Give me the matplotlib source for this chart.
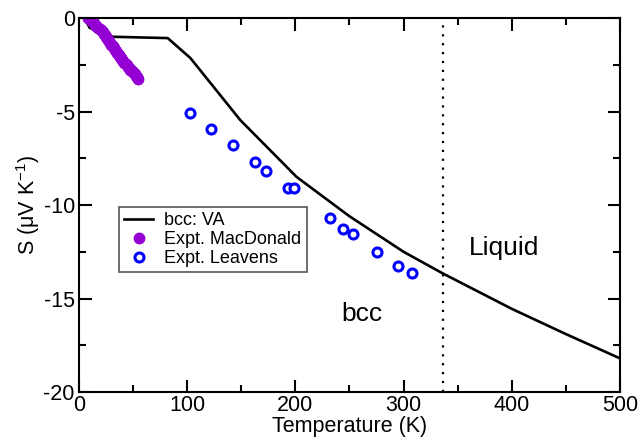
import numpy as np
import matplotlib.pyplot as plt

plt.rcParams['font.family'] = ['Liberation Sans', 'DejaVu Sans']
plt.rcParams['axes.unicode_minus'] = False

# bcc: VA calculation
va_T = [5, 10, 31, 82, 103, 149, 201, 250, 300, 336, 400, 450, 500]
va_S = [0.0, -0.53, -1.0, -1.07, -2.14, -5.45, -8.49, -10.6, -12.5, -13.65, -15.55, -16.9, -18.2]

# Expt. MacDonald
mac_T = [8, 9, 10, 11, 12, 13, 14, 15, 16, 17, 18, 19, 20, 21, 22, 23, 24, 25,
         26, 27, 28, 29, 30, 31, 32, 33, 34, 35, 36, 37, 38, 39, 40, 41, 42, 43,
         44, 45, 46, 47, 48, 49, 50, 51, 52, 53, 54, 55]
mac_S = [0.0, -0.02, -0.06, -0.1, -0.16, -0.22, -0.28, -0.35, -0.41, -0.47,
         -0.52, -0.58, -0.64, -0.7, -0.77, -0.85, -0.92, -1.0, -1.08, -1.15,
         -1.25, -1.35, -1.43, -1.5, -1.6, -1.7, -1.78, -1.85, -1.93, -2.0, -2.08,
         -2.15, -2.22, -2.3, -2.38, -2.45, -2.53, -2.6, -2.68, -2.75, -2.8,
         -2.85, -2.88, -2.92, -3.0, -3.08, -3.16, -3.24]

# Expt. Leavens
lea_T = [103, 122, 142, 163, 173, 193, 199, 232, 244, 253, 275, 295, 308]
lea_S = [-5.06, -5.95, -6.77, -7.68, -8.16, -9.07, -9.07, -10.68, -11.3, -11.55,
         -12.51, -13.25, -13.64]

fig = plt.figure(figsize=(6.38, 4.41), dpi=100)
ax = fig.add_axes([0.1238, 0.111, 0.848, 0.848])

ax.plot(va_T, va_S, color='black', lw=1.9, label='bcc: VA')
ax.plot(mac_T, mac_S, 'o', color='#9400d3', ms=7.5, mec='#9400d3',
        label='Expt. MacDonald')
ax.plot(lea_T, lea_S, 'o', mfc='white', mec='#0000ff', mew=2.2, ms=6.5,
        label='Expt. Leavens')
ax.axvline(336, color='black', ls=(0, (1, 3)), lw=1.6)

ax.text(393, -12.3, 'Liquid', fontsize=19, ha='center', va='center')
ax.text(261, -15.8, 'bcc', fontsize=19, ha='center', va='center')

ax.set_xlim(0, 500)
ax.set_ylim(-20, 0)
ax.set_xticks(np.arange(0, 501, 100))
ax.set_xticks(np.arange(0, 501, 50), minor=True)
ax.set_yticks(np.arange(-20, 1, 5))
ax.set_yticks(np.arange(-20, 1, 2.5), minor=True)
ax.tick_params(which='both', direction='in', top=True, right=True, labelsize=15.5,
               width=1.5)
ax.tick_params(which='major', length=9, pad=2)
ax.tick_params(axis='y', which='major', pad=3)
ax.tick_params(which='minor', length=5)
for s in ax.spines.values():
    s.set_linewidth(1.5)

ax.set_xlabel('Temperature (K)', fontsize=15.5, labelpad=0)
ax.set_ylabel('S ($\\mathregular{\\mu}$V K$^{\\mathregular{-1}}$)', fontsize=15.5,
              labelpad=1)

leg = ax.legend(loc='upper left', bbox_to_anchor=(0.074, 0.495), fontsize=13,
                fancybox=False, framealpha=1, edgecolor='#555555',
                handlelength=1.6, handletextpad=0.6, borderpad=0.3,
                labelspacing=0.1, borderaxespad=0)
leg.get_frame().set_linewidth(1.2)

fig.savefig('out.png', dpi=100)
